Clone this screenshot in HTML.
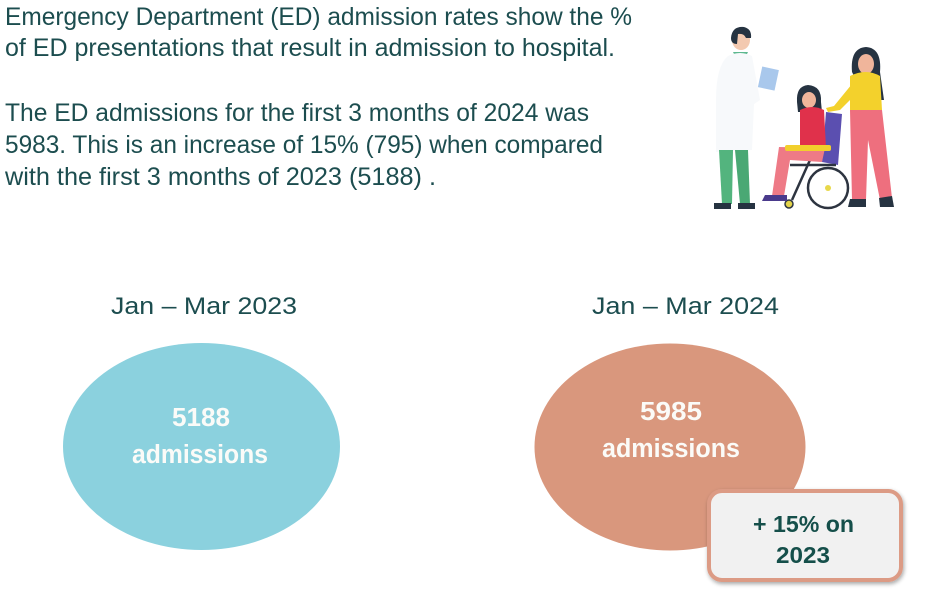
<!DOCTYPE html>
<html>
<head>
<meta charset="utf-8">
<style>
  html, body { margin: 0; padding: 0; background: #ffffff; }
  body { width: 948px; height: 601px; overflow: hidden; }
  svg { display: block; }
  .body { font-family: "Liberation Sans", sans-serif; font-size: 25px; fill: #1c4d4f; }
  .head { font-family: "Liberation Sans", sans-serif; font-size: 24.5px; fill: #1c4d4f; }
  .ell { font-family: "Liberation Sans", sans-serif; font-weight: bold; font-size: 25.5px; fill: #fbfbf8; }
  .box { font-family: "Liberation Sans", sans-serif; font-weight: bold; font-size: 23.5px; fill: #154f4a; }
</style>
</head>
<body>
<svg width="948" height="601" viewBox="0 0 948 601" xmlns="http://www.w3.org/2000/svg">
  <defs>
    <filter id="sh" x="-10%" y="-10%" width="120%" height="125%">
      <feGaussianBlur in="SourceAlpha" stdDeviation="2"/>
      <feOffset dx="1" dy="2" result="b"/>
      <feComponentTransfer><feFuncA type="linear" slope="0.35"/></feComponentTransfer>
      <feMerge><feMergeNode/><feMergeNode in="SourceGraphic"/></feMerge>
    </filter>
  </defs>

  <!-- Body text -->
  <text class="body" x="5" y="25" textLength="627" lengthAdjust="spacingAndGlyphs">Emergency Department (ED) admission rates show the %</text>
  <text class="body" x="5" y="56" textLength="610" lengthAdjust="spacingAndGlyphs">of ED presentations that result in admission to hospital.</text>
  <text class="body" x="5" y="121" textLength="584" lengthAdjust="spacingAndGlyphs">The ED admissions for the first 3 months of 2024 was</text>
  <text class="body" x="5" y="153" textLength="598" lengthAdjust="spacingAndGlyphs">5983. This is an increase of 15% (795) when compared</text>
  <text class="body" x="5" y="185" textLength="431" lengthAdjust="spacingAndGlyphs">with the first 3 months of 2023 (5188) .</text>

  <!-- Headings -->
  <text class="head" x="111" y="314" textLength="186" lengthAdjust="spacingAndGlyphs">Jan – Mar 2023</text>
  <text class="head" x="592" y="314" textLength="187" lengthAdjust="spacingAndGlyphs">Jan – Mar 2024</text>

  <!-- Ellipses -->
  <ellipse cx="201.5" cy="446.5" rx="138.5" ry="103.5" fill="#8bd1de"/>
  <ellipse cx="670" cy="447" rx="135.5" ry="103.5" fill="#d9977d"/>

  <text class="ell" x="172" y="426" textLength="58" lengthAdjust="spacingAndGlyphs">5188</text>
  <text class="ell" x="132" y="463" textLength="136" lengthAdjust="spacingAndGlyphs">admissions</text>
  <text class="ell" x="640" y="420" textLength="62" lengthAdjust="spacingAndGlyphs">5985</text>
  <text class="ell" x="602" y="457" textLength="138" lengthAdjust="spacingAndGlyphs">admissions</text>

  <!-- Callout box -->
  <g filter="url(#sh)">
    <rect x="709" y="491" width="192" height="89" rx="13" ry="13" fill="#f1f1f1" stroke="#dc9b85" stroke-width="4"/>
  </g>
  <text class="box" x="753" y="532" textLength="101" lengthAdjust="spacingAndGlyphs">+ 15% on</text>
  <text class="box" x="776" y="563" textLength="54" lengthAdjust="spacingAndGlyphs">2023</text>

  <!-- Illustration -->
  <g>
    <!-- Doctor -->
    <ellipse cx="741" cy="40" rx="9" ry="10" fill="#f3c9b0"/>
    <path d="M731 38 Q732 26 744 27 Q752 29 751 38 L746 38 Q744 33 738 34 L737 44 Q731 44 731 38 Z" fill="#263341"/>
    <path d="M733 52 L748 52 L744 60 L737 60 Z" fill="#5cb88f"/>
    <path d="M728 56 Q740 50 752 56 L760 100 L754 104 L752 150 L716 152 L716 100 Q716 66 728 56 Z" fill="#f7f9fb"/>
    <rect x="760" y="68" width="17" height="21" fill="#a9c8ec" transform="rotate(12 768 78)"/>
    <path d="M719 150 L733 150 L732 204 L722 204 Z" fill="#53b47e"/>
    <path d="M735 150 L748 150 L750 204 L740 204 Z" fill="#4aa874"/>
    <path d="M714 203 L731 203 L731 209 L714 209 Z" fill="#263341"/>
    <path d="M738 203 L755 203 L755 209 L738 209 Z" fill="#263341"/>

    <!-- Wheelchair -->
    <path d="M826 112 L842 114 L838 165 L822 162 Z" fill="#5b4fb0"/>
    <circle cx="828" cy="188" r="20" fill="none" stroke="#2d3440" stroke-width="2.5"/>
    <circle cx="828" cy="188" r="3" fill="#e8d84a"/>
    <line x1="810" y1="160" x2="792" y2="200" stroke="#2d3440" stroke-width="2.5"/>
    <line x1="790" y1="165" x2="836" y2="165" stroke="#2d3440" stroke-width="2.5"/>
    <circle cx="789" cy="204" r="4" fill="#e3d34a" stroke="#2d3440" stroke-width="1.5"/>

    <!-- Seated woman -->
    <path d="M797 102 Q796 86 808 85 Q822 86 821 102 L822 112 L798 112 Z" fill="#263341"/>
    <ellipse cx="809" cy="100" rx="7" ry="8" fill="#f0b59b"/>
    <path d="M800 110 Q812 104 824 110 L826 148 L800 148 Z" fill="#e0314b"/>
    <path d="M779 147 L825 148 L822 162 L790 160 L784 196 L772 196 Z" fill="#ee7a86"/>
    <rect x="785" y="145" width="46" height="6" rx="2" fill="#f2cf2c"/>
    <path d="M765 195 L787 195 L787 201 L762 201 Z" fill="#4a3a8c"/>

    <!-- Standing woman -->
    <path d="M852 72 Q850 48 866 47 Q882 48 880 72 L884 100 L872 100 L870 80 L858 84 Z" fill="#263341"/>
    <ellipse cx="866" cy="64" rx="8" ry="10" fill="#f0b59b"/>
    <path d="M850 76 Q866 68 880 76 L882 110 L850 110 Z" fill="#f3d12c"/>
    <path d="M852 84 L834 106 L826 108 L828 112 L840 110 L858 92 Z" fill="#f3d12c"/>
    <path d="M850 110 L882 110 L892 198 L880 200 L868 140 L866 200 L852 200 Z" fill="#ee6f7e"/>
    <path d="M850 199 L866 199 L866 207 L848 207 Z" fill="#263341"/>
    <path d="M879 198 L892 196 L894 207 L880 207 Z" fill="#263341"/>
  </g>
</svg>
</body>
</html>
